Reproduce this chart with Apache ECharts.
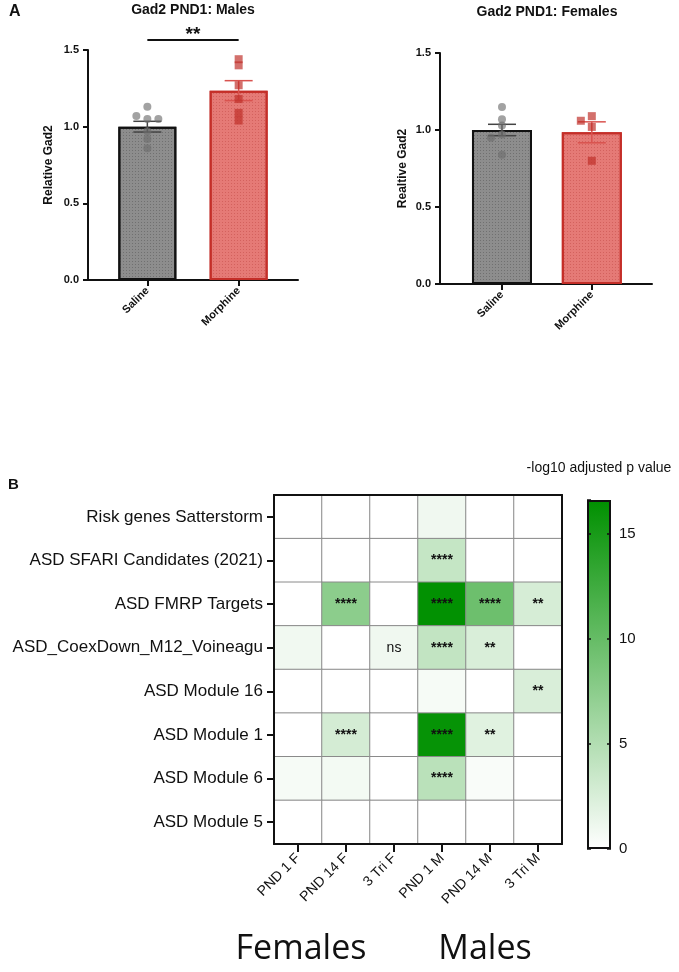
<!DOCTYPE html>
<html>
<head>
<meta charset="utf-8">
<script src="https://cdn.jsdelivr.net/npm/echarts@6/dist/echarts.min.js"></script>
<style>
  html, body { margin: 0; padding: 0; background: #fff; }
  #chart { width: 679px; height: 972px; }
</style>
</head>
<body>
<div id="chart"></div>
<script>
'use strict';

// panel A: Gad2 qPCR, individual animals + mean/SEM
var groups = ['Saline', 'Morphine'];
var maleSaline = [1.13, 1.05, 1.07, 1.05, 0.97, 0.92, 0.86];
var maleMorphine = [1.44, 1.40, 1.27, 1.18, 1.09, 1.04];
var maleMean = [1.00, 1.235];
var maleSem = [0.035, 0.065];
var femaleSaline = [1.15, 1.07, 1.03, 0.97, 0.95, 0.84];
var femaleMorphine = [1.09, 1.06, 1.02, 0.80];
var femaleMean = [1.00, 0.985];
var femaleSem = [0.037, 0.068];
var maleSig = [0, 1, 1.565];

// panel B: enrichment heatmap
var geneSets = ['Risk genes Satterstorm', 'ASD SFARI Candidates (2021)', 'ASD FMRP Targets',
    'ASD_CoexDown_M12_Voineagu', 'ASD Module 16', 'ASD Module 1', 'ASD Module 6', 'ASD Module 5'];
var samples = ['PND 1 F', 'PND 14 F', '3 Tri F', 'PND 1 M', 'PND 14 M', '3 Tri M'];
var logP = [
    [0, 0, 0, 1.0, 0, 0],
    [0, 0, 0, 3.8, 0, 0],
    [0, 7.5, 0, 16.5, 9.5, 2.7],
    [0.9, 0, 1.0, 4.0, 2.5, 0],
    [0, 0, 0, 0.6, 0, 2.5],
    [0, 2.8, 0, 16.2, 2.0, 0],
    [0.6, 0.8, 0, 4.5, 0.4, 0],
    [0, 0, 0, 0, 0, 0]
];
var signif = [
    ['', '', '', '', '', ''],
    ['', '', '', '****', '', ''],
    ['', '****', '', '****', '****', '**'],
    ['', '', 'ns', '****', '**', ''],
    ['', '', '', '', '', '**'],
    ['', '****', '', '****', '**', ''],
    ['', '', '', '****', '', ''],
    ['', '', '', '', '', '']
];
var colorMax = 16.6;
var colorTicks = 5;

var FONT = '"Liberation Sans", Arial, sans-serif';
var chart = echarts.init(document.getElementById('chart'));

// simple beeswarm: nudge a dot sideways when it would overlap one already placed
function swarm(values) {
    var placed = [];
    var slots = [0, -11, 11, -22, 22];
    return values.map(function (v) {
        for (var k = 0; k < slots.length; k++) {
            var s = slots[k];
            var hit = placed.some(function (p) { return p.s === s && Math.abs(p.v - v) * 153 < 6; });
            if (!hit) { placed.push({ v: v, s: s }); return s; }
        }
        return 0;
    });
}

function dots(values, x) {
    var off = swarm(values);
    return values.map(function (v, i) {
        return { value: [x, v], symbolOffset: [off[i], 0] };
    });
}

var barFill = [
    { color: '#8d8d8d', borderColor: '#111', borderWidth: 2,
      decal: { symbol: 'rect', symbolSize: 1, dashArrayX: [1, 2], dashArrayY: [1, 2], color: 'rgba(60,60,60,0.35)' } },
    { color: '#e57a76', borderColor: '#c42e28', borderWidth: 2,
      decal: { symbol: 'rect', symbolSize: 1, dashArrayX: [1, 2], dashArrayY: [1, 2], color: 'rgba(170,40,35,0.3)' } }
];
var errColor = ['#444', '#d9534f'];

function renderErr(params, api) {
    var x = api.value(0), m = api.value(1), s = api.value(2);
    var top = api.coord([x, m + s]);
    var bot = api.coord([x, m - s]);
    var hw = 14;
    var st = { stroke: errColor[params.dataIndex], lineWidth: 1.5 };
    return {
        type: 'group',
        children: [
            { type: 'line', shape: { x1: top[0], y1: top[1], x2: bot[0], y2: bot[1] }, style: st },
            { type: 'line', shape: { x1: top[0] - hw, y1: top[1], x2: top[0] + hw, y2: top[1] }, style: st },
            { type: 'line', shape: { x1: bot[0] - hw, y1: bot[1], x2: bot[0] + hw, y2: bot[1] }, style: st }
        ]
    };
}

function renderSig(params, api) {
    var a = api.coord([api.value(0), api.value(2)]);
    var b = api.coord([api.value(1), api.value(2)]);
    return {
        type: 'group',
        children: [
            { type: 'line', shape: { x1: a[0], y1: a[1], x2: b[0], y2: b[1] }, style: { stroke: '#111', lineWidth: 2 } },
            { type: 'text', x: (a[0] + b[0]) / 2, y: a[1] - 5,
              style: { text: '**', fill: '#111', font: 'bold 19px ' + FONT, textAlign: 'center', textVerticalAlign: 'middle' } }
        ]
    };
}

function barXAxis(grid, min, max) {
    return {
        type: 'value', gridIndex: grid, min: min, max: max,
        axisLine: { show: true, onZero: false, lineStyle: { color: '#111', width: 2 } },
        axisTick: { show: true, customValues: [0, 1], length: 6, lineStyle: { color: '#111', width: 2 } },
        axisLabel: {
            customValues: [0, 1], rotate: 45, margin: 9,
            fontSize: 11, fontWeight: 'bold', color: '#111',
            formatter: function (v) { return groups[Math.round(v)]; }
        },
        splitLine: { show: false }
    };
}

function barYAxis(grid, name, gap) {
    return {
        type: 'value', gridIndex: grid, min: 0, max: 1.5, interval: 0.5,
        name: name, nameLocation: 'middle', nameGap: gap,
        nameTextStyle: { fontSize: 12, fontWeight: 'bold', color: '#111' },
        axisLine: { show: true, onZero: false, lineStyle: { color: '#111', width: 2 } },
        axisTick: { show: true, length: 5, lineStyle: { color: '#111', width: 2 } },
        axisLabel: { fontSize: 11, fontWeight: 'bold', color: '#111', margin: 9,
            formatter: function (v) { return v.toFixed(1); } },
        splitLine: { show: false }
    };
}

var heatData = [];
for (var r = 0; r < geneSets.length; r++) {
    for (var c = 0; c < samples.length; c++) {
        heatData.push([c, r, logP[r][c]]);
    }
}

var lineOnly = { show: true, onZero: false, lineStyle: { color: '#111', width: 2 } };

var options = {
    animation: false,
    textStyle: { fontFamily: FONT },
    grid: [
        { left: 88, top: 50, width: 210, height: 230 },
        { left: 440, top: 53, width: 212, height: 231 },
        { left: 274, top: 495, width: 288, height: 349 },
        { left: 587, top: 500, width: 24, height: 349 }
    ],
    xAxis: [
        barXAxis(0, -0.65, 1.65),
        barXAxis(1, -0.69, 1.67),
        {
            type: 'category', gridIndex: 2, data: samples, position: 'bottom', z: 5,
            axisLine: lineOnly,
            axisTick: { show: true, alignWithLabel: true, length: 8, lineStyle: { color: '#111', width: 2 } },
            axisLabel: { rotate: 45, fontSize: 14, color: '#111', margin: 12 },
            splitLine: { show: false }
        },
        {
            type: 'category', gridIndex: 2, data: samples, position: 'top', z: 5,
            axisLine: lineOnly, axisTick: { show: false }, axisLabel: { show: false }
        },
        { type: 'category', gridIndex: 3, data: ['scale'], show: false }
    ],
    yAxis: [
        barYAxis(0, 'Relative Gad2', 33),
        barYAxis(1, 'Realtive Gad2', 31),
        {
            type: 'category', gridIndex: 2, data: geneSets, inverse: true, z: 5,
            axisLine: lineOnly,
            axisTick: { show: true, alignWithLabel: true, length: 7, lineStyle: { color: '#111', width: 2 } },
            axisLabel: { fontSize: 17, color: '#111', margin: 11 },
            splitLine: { show: false }
        },
        {
            type: 'category', gridIndex: 2, data: geneSets, inverse: true, position: 'right', z: 5,
            axisLine: lineOnly, axisTick: { show: false }, axisLabel: { show: false }
        },
        {
            type: 'value', gridIndex: 3, min: 0, max: colorMax, interval: colorTicks, position: 'right', z: 5,
            axisLine: { show: false },
            axisTick: { show: true, inside: true, length: 4, lineStyle: { color: '#111', width: 1.5 } },
            axisLabel: { fontSize: 15, color: '#111', margin: 8, showMaxLabel: false },
            splitLine: { show: false }
        },
        {
            type: 'value', gridIndex: 3, min: 0, max: colorMax, interval: colorTicks, position: 'left', z: 5,
            axisLine: { show: false },
            axisTick: { show: true, inside: true, length: 4, lineStyle: { color: '#111', width: 1.5 } },
            axisLabel: { show: false },
            splitLine: { show: false }
        }
    ],
    visualMap: {
        show: false, type: 'continuous', seriesIndex: 8,
        min: 0, max: colorMax,
        inRange: { color: ['#ffffff', '#009000'] }
    },
    graphic: [
        { type: 'text', x: 9, y: 4, style: { text: 'A', font: 'bold 16px ' + FONT, fill: '#111' } },
        { type: 'text', x: 193, y: 3, style: { text: 'Gad2 PND1: Males', font: 'bold 14px ' + FONT, fill: '#111', textAlign: 'center' } },
        { type: 'text', x: 547, y: 5, style: { text: 'Gad2 PND1: Females', font: 'bold 14px ' + FONT, fill: '#111', textAlign: 'center' } },
        { type: 'text', x: 8, y: 477, style: { text: 'B', font: 'bold 15px ' + FONT, fill: '#111' } },
        { type: 'text', x: 599, y: 461, style: { text: '-log10 adjusted p value', font: '14px ' + FONT, fill: '#111', textAlign: 'center' } },
        { type: 'text', x: 301, y: 932, style: { text: 'Females', font: '34px "Open Sans", sans-serif', fill: '#111', textAlign: 'center' } },
        { type: 'text', x: 485, y: 932, style: { text: 'Males', font: '34px "Open Sans", sans-serif', fill: '#111', textAlign: 'center' } }
    ],
    series: [
        // males
        {
            type: 'bar', xAxisIndex: 0, yAxisIndex: 0, barWidth: 58,
            data: maleMean.map(function (v, i) { return { value: [i, v], itemStyle: barFill[i] }; })
        },
        {
            type: 'custom', xAxisIndex: 0, yAxisIndex: 0, renderItem: renderErr, z: 3,
            data: maleMean.map(function (v, i) { return [i, v, maleSem[i]]; })
        },
        {
            type: 'scatter', xAxisIndex: 0, yAxisIndex: 0, symbol: 'circle', symbolSize: 8, z: 4,
            itemStyle: { color: 'rgba(110,110,110,0.8)' }, data: dots(maleSaline, 0)
        },
        {
            type: 'scatter', xAxisIndex: 0, yAxisIndex: 0, symbol: 'rect', symbolSize: 8, z: 4,
            itemStyle: { color: 'rgba(190,45,40,0.85)' }, data: dots(maleMorphine, 1)
        },
        {
            type: 'custom', xAxisIndex: 0, yAxisIndex: 0, renderItem: renderSig, clip: false,
            data: [maleSig]
        },
        // females
        {
            type: 'bar', xAxisIndex: 1, yAxisIndex: 1, barWidth: 60,
            data: femaleMean.map(function (v, i) { return { value: [i, v], itemStyle: barFill[i] }; })
        },
        {
            type: 'custom', xAxisIndex: 1, yAxisIndex: 1, renderItem: renderErr, z: 3,
            data: femaleMean.map(function (v, i) { return [i, v, femaleSem[i]]; })
        },
        {
            type: 'scatter', xAxisIndex: 1, yAxisIndex: 1, symbol: 'circle', symbolSize: 8, z: 4,
            itemStyle: { color: 'rgba(110,110,110,0.8)' }, data: dots(femaleSaline, 0)
        },
        // heatmap
        {
            type: 'heatmap', xAxisIndex: 2, yAxisIndex: 2, data: heatData,
            itemStyle: { borderColor: '#8a8a8a', borderWidth: 1 },
            label: {
                show: true, color: '#111',
                formatter: function (p) {
                    var t = signif[p.value[1]][p.value[0]];
                    if (!t) return '';
                    return t === 'ns' ? '{ns|ns}' : '{s|' + t + '}';
                },
                rich: {
                    s: { fontSize: 14, fontWeight: 'bold', color: '#111' },
                    ns: { fontSize: 14, color: '#111' }
                }
            },
            emphasis: { disabled: true }
        },
        {
            type: 'scatter', xAxisIndex: 1, yAxisIndex: 1, symbol: 'rect', symbolSize: 8, z: 4,
            itemStyle: { color: 'rgba(190,45,40,0.85)' }, data: dots(femaleMorphine, 1)
        },
        // colour scale
        {
            type: 'bar', xAxisIndex: 4, yAxisIndex: 4, barWidth: '100%',
            data: [colorMax],
            itemStyle: {
                borderColor: '#111', borderWidth: 2,
                color: new echarts.graphic.LinearGradient(0, 0, 0, 1, [
                    { offset: 0, color: '#009000' },
                    { offset: 1, color: '#ffffff' }
                ])
            }
        }
    ]
};

chart.setOption(options);
window.onresize = function () {
    chart.resize();
};
</script>
</body>
</html>
